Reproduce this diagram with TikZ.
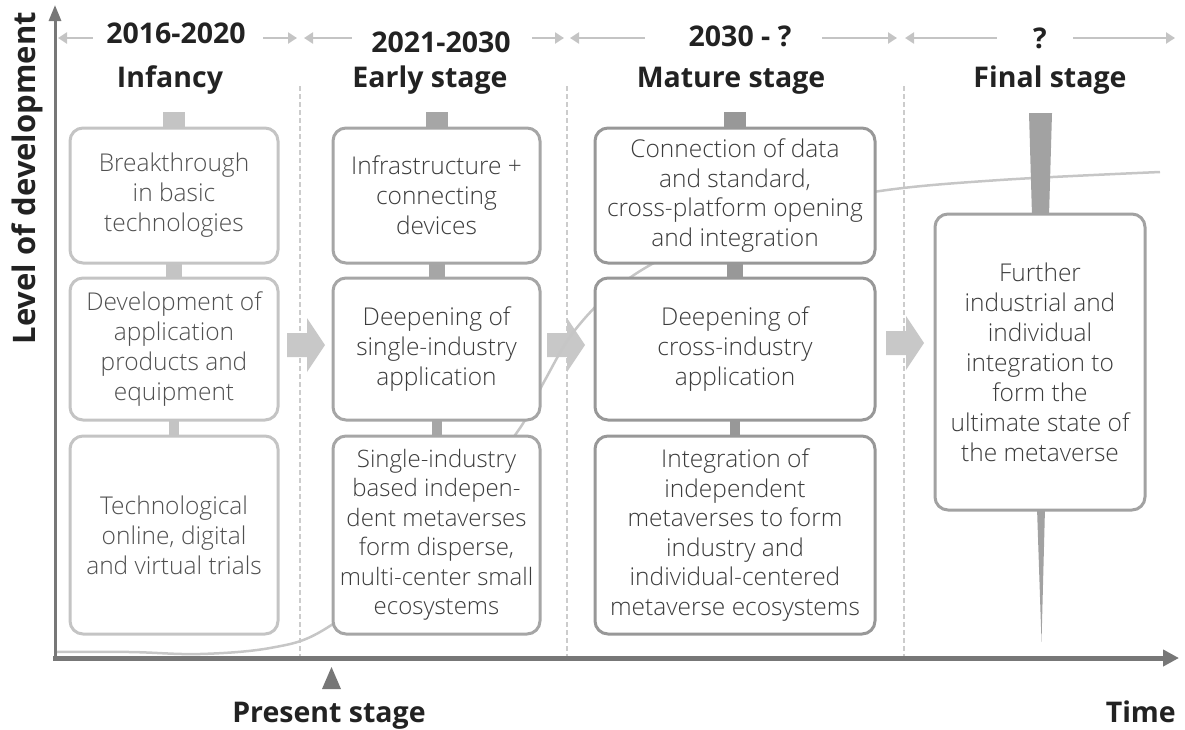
\documentclass[tikz,border=0pt]{standalone}
\usepackage{fontspec}
\setmainfont{Open Sans}
\IfFontExistsTF{Open Sans Light}{\newfontfamily\boxfont{Open Sans Light}}{\newfontfamily\boxfont{Open Sans}}
\usetikzlibrary{arrows.meta,calc}
\definecolor{axisc}{HTML}{777777}
\definecolor{cA}{HTML}{C4C4C4}
\definecolor{cB}{HTML}{A6A6A6}
\definecolor{cC}{HTML}{989898}
\definecolor{cD}{HTML}{A2A2A2}
\definecolor{tA}{HTML}{505050}
\definecolor{tB}{HTML}{3C3C3C}
\definecolor{hdc}{HTML}{222222}
\definecolor{hl}{HTML}{C4C4C4}
\definecolor{sepc}{HTML}{CCCCCC}
\definecolor{flowc}{HTML}{C8C8C8}
\definecolor{curvec}{HTML}{C6C6C6}
\begin{document}
\begin{tikzpicture}[x=1pt,y=-1pt,
  box/.style={draw, rounded corners=13pt, line width=3pt, fill=white, inner sep=0pt, align=center, font=\boxfont\fontsize{24.5}{30}\selectfont},
  bA/.style={box, draw=cA, text=tA},
  bB/.style={box, draw=cB, text=tB},
  bC/.style={box, draw=cC, text=tB},
  bD/.style={box, draw=cD, text=tB},
  hd/.style={font=\fontsize{28.5}{30}\selectfont\bfseries, text=hdc, anchor=base, inner sep=0pt},
  hline/.style={draw=hl, line width=2.2pt},
  sepline/.style={draw=sepc, line width=2pt, dash pattern=on 5pt off 3pt},
  flow/.style={fill=flowc},
  curve/.style={draw=curvec, line width=2.5pt},
  axisline/.style={draw=axisc}
]
\useasboundingbox (0,0) rectangle (1185,729);

% separators
\draw[sepline] (300,86) -- (300,658);
\draw[sepline] (567,86) -- (567,658);
\draw[sepline] (904,86) -- (904,658);

% header timeline arrows
\draw[hline, {Triangle[length=9pt,width=11pt]}-] (58,38) -- (93,38);
\draw[hline, -{Triangle[length=9pt,width=11pt]}] (263,38) -- (297,38);
\draw[hline, {Triangle[length=9pt,width=11pt]}-] (304,38) -- (352,38);
\draw[hline, -{Triangle[length=9pt,width=11pt]}] (532,38) -- (564,38);
\draw[hline, {Triangle[length=9pt,width=11pt]}-] (570,38) -- (645,38);
\draw[hline, -{Triangle[length=9pt,width=11pt]}] (822,38) -- (897,38);
\draw[hline, {Triangle[length=9pt,width=11pt]}-] (905,38) -- (997,38);
\draw[hline, -{Triangle[length=9pt,width=11pt]}] (1073,38) -- (1175,38);

\node[hd] (h1) at (176,43) {2016-2020};
\node[hd] (h2) at (441,52) {2021-2030};
\node[hd] (h3) at (740,46) {2030 - ?};
\node[hd] (h4) at (1040,48) {?};

\node[hd] (s1) at (170,87) {Infancy};
\node[hd] (s2) at (430,87) {Early stage};
\node[hd] (s3) at (731,87) {Mature stage};
\node[hd] (s4) at (1050,87) {Final stage};

% flow arrows
\foreach \fx/\fy in {287/345, 547/345, 886/343}{
  \fill[flow, shift={(\fx,\fy)}] (0,-12) -- (20,-12) -- (20,-27) -- (38,0) -- (20,27) -- (20,12) -- (0,12) -- cycle;
}

% growth curve
\draw[curve] plot[smooth, tension=0.6] coordinates {(55,652) (130,652) (200,654) (270,648) (320,632) (380,585) (470,490) (520,428) (545,380) (575,330) (620,285) (680,250) (780,212) (880,191) (1000,180) (1160,172)};

% connectors column 1
\fill[cA] (163,112) rectangle (185,130);
\fill[cA] (166,262) rectangle (182,280);
\fill[cA] (169,418) rectangle (179,438);
% column 2
\fill[cB] (425.5,112) rectangle (447.5,130);
\fill[cB] (428.5,262) rectangle (444.5,280);
\fill[cB] (431.5,418) rectangle (441.5,438);
% column 3
\fill[cC] (724,112) rectangle (746,130);
\fill[cC] (727,262) rectangle (743,280);
\fill[cC] (730,418) rectangle (740,438);
% column 4 tapered bars
\fill[cD] (1029,113) -- (1052,113) -- (1049,216) -- (1032,216) -- cycle;
\fill[cD] (1037,508) -- (1045,508) -- (1041.5,642) -- cycle;

% column 1
\node[bA, minimum width=208pt, minimum height=135pt] (a1) at (174,195.5) {Breakthrough\\in basic\\technologies};
\node[bA, minimum width=208pt, minimum height=142pt] (a2) at (174,349) {Development of\\application\\products and\\equipment};
\node[bA, minimum width=208pt, minimum height=198pt] (a3) at (174,535) {Technological\\online, digital\\and virtual trials};
% column 2
\node[bB, minimum width=207pt, minimum height=135pt] (b1) at (436.5,195.5) {Infrastructure +\\connecting\\devices};
\node[bB, minimum width=207pt, minimum height=142pt] (b2) at (436.5,349) {Deepening of\\single-industry\\application};
\node[bB, minimum width=207pt, minimum height=198pt, font=\boxfont\fontsize{24}{29.5}\selectfont] (b3) at (436.5,535) {Single-industry\\based indepen-\\dent metaverses\\form disperse,\\multi-center small\\ecosystems};
% column 3
\node[bC, minimum width=280pt, minimum height=135pt, font=\boxfont\fontsize{24.5}{29.5}\selectfont] (c1) at (735,195.5) {Connection of data\\and standard,\\cross-platform opening\\and integration};
\node[bC, minimum width=280pt, minimum height=142pt] (c2) at (735,349) {Deepening of\\cross-industry\\application};
\node[bC, minimum width=280pt, minimum height=198pt, font=\boxfont\fontsize{24.5}{29.5}\selectfont] (c3) at (735,535) {Integration of\\independent\\metaverses to form\\industry and\\individual-centered\\metaverse ecosystems};
% column 4
\node[bD, minimum width=210pt, minimum height=296pt] (d1) at (1040,362) {Further\\industrial and\\individual\\integration to\\form the\\ultimate state of\\the metaverse};

% axes
\draw[axisline, line width=3pt, -{Triangle[length=16pt,width=12pt]}] (55,660) -- (55,5);
\draw[axisline, line width=5pt, -{Triangle[length=16pt,width=16pt]}] (53,658) -- (1179,658);

% present marker
\fill[axisc] (322,689) -- (341,689) -- (331.5,667) -- cycle;

\node[hd] (ps) at (329,722) {Present stage};
\node[hd, anchor=base east] (tm) at (1176,722) {Time};
\node[hd, rotate=90, anchor=base east, font=\fontsize{31}{32}\selectfont\bfseries] (yl) at (35,12) {Level of development};

\end{tikzpicture}
\end{document}
